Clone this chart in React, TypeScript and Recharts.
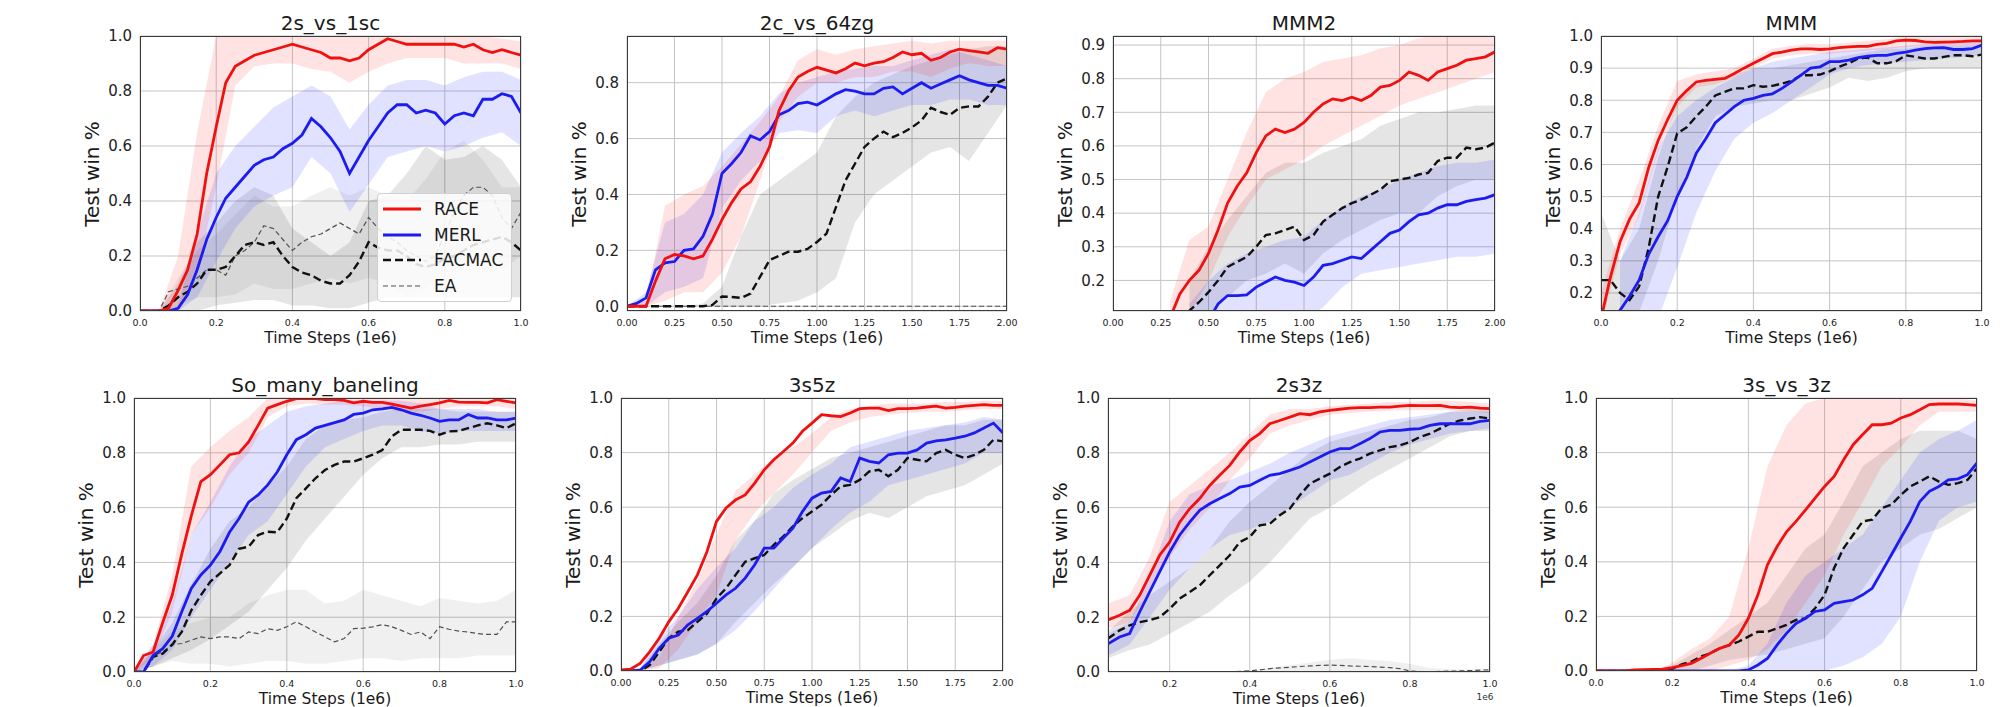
import React from "react";
import { ComposedChart, Line, Area, XAxis, YAxis, CartesianGrid } from "recharts";

const FONT = "'DejaVu Sans', sans-serif";

// x grids (1e6 steps)
const T1 = [0, 0.025, 0.05, 0.075, 0.1, 0.125, 0.15, 0.175, 0.2, 0.225, 0.25, 0.275, 0.3, 0.325, 0.35, 0.375, 0.4, 0.425, 0.45, 0.475, 0.5, 0.525, 0.55, 0.575, 0.6, 0.625, 0.65, 0.675, 0.7, 0.725, 0.75, 0.775, 0.8, 0.825, 0.85, 0.875, 0.9, 0.925, 0.95, 0.975, 1];
const T2 = [0, 0.05, 0.1, 0.15, 0.2, 0.25, 0.3, 0.35, 0.4, 0.45, 0.5, 0.55, 0.6, 0.65, 0.7, 0.75, 0.8, 0.85, 0.9, 0.95, 1, 1.05, 1.1, 1.15, 1.2, 1.25, 1.3, 1.35, 1.4, 1.45, 1.5, 1.55, 1.6, 1.65, 1.7, 1.75, 1.8, 1.85, 1.9, 1.95, 2];
const B1 = [0, 0.05, 0.1, 0.15, 0.2, 0.25, 0.3, 0.35, 0.4, 0.45, 0.5, 0.55, 0.6, 0.65, 0.7, 0.75, 0.8, 0.85, 0.9, 0.95, 1];
const B2 = [0, 0.1, 0.2, 0.3, 0.4, 0.5, 0.6, 0.7, 0.8, 0.9, 1, 1.1, 1.2, 1.3, 1.4, 1.5, 1.6, 1.7, 1.8, 1.9, 2];
const T7 = [0.046, 0.075, 0.1, 0.125, 0.15, 0.175, 0.2, 0.225, 0.25, 0.275, 0.3, 0.325, 0.35, 0.375, 0.4, 0.425, 0.45, 0.475, 0.5, 0.525, 0.55, 0.575, 0.6, 0.625, 0.65, 0.675, 0.7, 0.725, 0.75, 0.775, 0.8, 0.825, 0.85, 0.875, 0.9, 0.925, 0.95, 0.975, 1];
const B7 = [0.046, 0.1, 0.15, 0.2, 0.25, 0.3, 0.35, 0.4, 0.45, 0.5, 0.55, 0.6, 0.65, 0.7, 0.75, 0.8, 0.85, 0.9, 0.95, 1];
const FLAT1 = [0, 1];
const FLAT2 = [0, 2];
const FLAT_ZERO = [0, 0];

// tick values
const XT_1 = [0, 0.2, 0.4, 0.6, 0.8, 1];
const XT_2 = [0, 0.25, 0.5, 0.75, 1, 1.25, 1.5, 1.75, 2];
const XT_7 = [0.2, 0.4, 0.6, 0.8, 1];
const YT_A = [0, 0.2, 0.4, 0.6, 0.8, 1];
const YT_B = [0, 0.2, 0.4, 0.6, 0.8];
const YT_C = [0.2, 0.3, 0.4, 0.5, 0.6, 0.7, 0.8, 0.9];
const YT_D = [0.2, 0.3, 0.4, 0.5, 0.6, 0.7, 0.8, 0.9, 1];

// ---- 2s_vs_1sc
const p1Race = [0, 0, 0, 0.01, 0.075, 0.15, 0.28, 0.5, 0.67, 0.83, 0.89, 0.91, 0.93, 0.94, 0.95, 0.96, 0.97, 0.96, 0.95, 0.94, 0.92, 0.92, 0.91, 0.92, 0.95, 0.97, 0.99, 0.98, 0.97, 0.97, 0.97, 0.97, 0.97, 0.97, 0.96, 0.97, 0.95, 0.94, 0.95, 0.94, 0.93];
const p1RaceLo = [0, 0, 0.01, 0.14, 0.45, 0.82, 0.89, 0.9, 0.9, 0.88, 0.87, 0.83, 0.87, 0.9, 0.92, 0.92, 0.92, 0.9, 0.9, 0.9, 0.88];
const p1RaceHi = [0, 0, 0.2, 0.65, 1, 1, 1, 1, 1, 1, 1, 1, 1, 1, 1, 1, 1, 1, 1, 0.99, 0.98];
const p1Merl = [0, 0, 0, 0, 0.01, 0.06, 0.15, 0.26, 0.34, 0.41, 0.45, 0.49, 0.53, 0.55, 0.56, 0.59, 0.61, 0.64, 0.7, 0.67, 0.63, 0.58, 0.5, 0.56, 0.62, 0.67, 0.72, 0.75, 0.75, 0.72, 0.73, 0.72, 0.68, 0.71, 0.72, 0.71, 0.77, 0.77, 0.79, 0.78, 0.72];
const p1MerlLo = [0, 0, 0, 0.05, 0.18, 0.3, 0.38, 0.42, 0.45, 0.56, 0.5, 0.36, 0.46, 0.56, 0.58, 0.6, 0.58, 0.6, 0.63, 0.65, 0.6];
const p1MerlHi = [0, 0, 0.02, 0.28, 0.5, 0.6, 0.67, 0.74, 0.78, 0.82, 0.78, 0.66, 0.75, 0.82, 0.84, 0.84, 0.82, 0.85, 0.87, 0.87, 0.84];
const p1Fac = [0, 0, 0, 0.02, 0.05, 0.07, 0.1, 0.15, 0.15, 0.16, 0.2, 0.24, 0.25, 0.24, 0.25, 0.2, 0.16, 0.14, 0.13, 0.11, 0.1, 0.1, 0.13, 0.18, 0.25, 0.23, 0.22, 0.22, 0.2, 0.17, 0.16, 0.17, 0.19, 0.2, 0.22, 0.24, 0.25, 0.26, 0.27, 0.25, 0.22];
const p1FacLo = [0, 0, 0, 0, 0.02, 0.03, 0.04, 0.04, 0.02, 0.02, 0.01, 0.01, 0.03, 0.05, 0.05, 0.05, 0.05, 0.05, 0.05, 0.05, 0.05];
const p1FacHi = [0, 0, 0.1, 0.25, 0.32, 0.4, 0.45, 0.42, 0.3, 0.25, 0.2, 0.25, 0.4, 0.42, 0.5, 0.6, 0.55, 0.56, 0.6, 0.55, 0.45];
const p1Ea = [0, 0, 0, 0.07, 0.08, 0.09, 0.12, 0.15, 0.15, 0.13, 0.2, 0.22, 0.25, 0.31, 0.3, 0.26, 0.22, 0.25, 0.27, 0.28, 0.3, 0.32, 0.3, 0.28, 0.34, 0.3, 0.27, 0.25, 0.22, 0.2, 0.18, 0.2, 0.28, 0.36, 0.42, 0.45, 0.45, 0.42, 0.34, 0.3, 0.36];
const p1EaLo = [0, 0, 0.02, 0.05, 0.05, 0.06, 0.1, 0.08, 0.08, 0.1, 0.12, 0.1, 0.12, 0.1, 0.05, 0.08, 0.15, 0.2, 0.22, 0.15, 0.2];
const p1EaHi = [0, 0, 0.12, 0.22, 0.28, 0.35, 0.42, 0.38, 0.38, 0.42, 0.45, 0.42, 0.45, 0.42, 0.4, 0.48, 0.58, 0.62, 0.55, 0.45, 0.45];

// ---- 2c_vs_64zg
const p2Race = [0, 0, 0, 0.09, 0.17, 0.185, 0.18, 0.17, 0.18, 0.24, 0.31, 0.37, 0.42, 0.445, 0.5, 0.57, 0.7, 0.77, 0.82, 0.84, 0.855, 0.845, 0.835, 0.85, 0.87, 0.86, 0.87, 0.875, 0.89, 0.91, 0.9, 0.905, 0.88, 0.89, 0.91, 0.92, 0.915, 0.91, 0.905, 0.925, 0.92];
const p2RaceLo = [0, 0, 0.02, 0.05, 0.05, 0.12, 0.25, 0.45, 0.66, 0.75, 0.8, 0.8, 0.82, 0.82, 0.84, 0.84, 0.82, 0.85, 0.87, 0.86, 0.86];
const p2RaceHi = [0, 0.02, 0.36, 0.4, 0.43, 0.5, 0.58, 0.66, 0.75, 0.88, 0.92, 0.9, 0.92, 0.93, 0.94, 0.95, 0.94, 0.95, 0.95, 0.95, 0.95];
const p2Merl = [0, 0.01, 0.03, 0.13, 0.155, 0.16, 0.2, 0.205, 0.25, 0.33, 0.475, 0.51, 0.55, 0.61, 0.595, 0.625, 0.685, 0.7, 0.725, 0.73, 0.72, 0.74, 0.76, 0.775, 0.77, 0.76, 0.76, 0.78, 0.785, 0.76, 0.78, 0.8, 0.78, 0.795, 0.81, 0.825, 0.81, 0.8, 0.79, 0.79, 0.78];
const p2MerlLo = [0, 0, 0.05, 0.07, 0.1, 0.35, 0.45, 0.52, 0.62, 0.63, 0.62, 0.68, 0.7, 0.68, 0.7, 0.72, 0.72, 0.74, 0.74, 0.72, 0.72];
const p2MerlHi = [0, 0.05, 0.3, 0.33, 0.4, 0.55, 0.62, 0.68, 0.76, 0.8, 0.82, 0.84, 0.85, 0.86, 0.86, 0.88, 0.9, 0.92, 0.9, 0.88, 0.86];
const p2Fac = [0, 0, 0, 0, 0, 0, 0, 0, 0, 0.005, 0.035, 0.033, 0.03, 0.045, 0.105, 0.165, 0.18, 0.195, 0.195, 0.205, 0.23, 0.26, 0.355, 0.45, 0.51, 0.57, 0.6, 0.625, 0.605, 0.62, 0.64, 0.665, 0.71, 0.695, 0.685, 0.71, 0.715, 0.715, 0.75, 0.8, 0.815];
const p2FacLo = [0, 0, 0, 0, 0, 0, 0, 0, 0.01, 0.02, 0.05, 0.1, 0.3, 0.4, 0.45, 0.5, 0.55, 0.57, 0.52, 0.62, 0.72];
const p2FacHi = [0, 0, 0, 0, 0.01, 0.07, 0.25, 0.4, 0.45, 0.5, 0.55, 0.68, 0.75, 0.8, 0.83, 0.86, 0.88, 0.9, 0.92, 0.93, 0.93];

// ---- MMM2
const p3Race = [null, null, null, null, null, null, 0.09, 0.16, 0.2, 0.23, 0.28, 0.35, 0.43, 0.48, 0.52, 0.58, 0.63, 0.65, 0.64, 0.65, 0.67, 0.7, 0.725, 0.74, 0.735, 0.745, 0.735, 0.75, 0.775, 0.78, 0.795, 0.82, 0.81, 0.795, 0.82, 0.83, 0.84, 0.855, 0.86, 0.865, 0.88];
const p3RaceLo = [null, null, null, 0.05, 0.1, 0.2, 0.33, 0.42, 0.5, 0.53, 0.56, 0.6, 0.63, 0.66, 0.69, 0.72, 0.74, 0.76, 0.78, 0.8, 0.82];
const p3RaceHi = [null, null, null, 0.14, 0.32, 0.36, 0.5, 0.64, 0.76, 0.8, 0.82, 0.85, 0.86, 0.87, 0.89, 0.9, 0.92, 0.93, 0.93, 0.93, 0.93];
const p3Merl = [null, null, null, null, null, null, null, null, null, null, 0.08, 0.13, 0.155, 0.155, 0.157, 0.18, 0.195, 0.21, 0.2, 0.195, 0.185, 0.21, 0.245, 0.25, 0.26, 0.27, 0.265, 0.29, 0.315, 0.34, 0.35, 0.375, 0.395, 0.4, 0.415, 0.425, 0.425, 0.435, 0.44, 0.445, 0.455];
const p3MerlLo = [null, null, null, null, 0.05, 0.05, 0.05, 0.05, 0.05, 0.05, 0.08, 0.12, 0.18, 0.22, 0.23, 0.24, 0.25, 0.26, 0.27, 0.27, 0.28];
const p3MerlHi = [null, null, null, null, 0.13, 0.2, 0.25, 0.28, 0.3, 0.32, 0.33, 0.38, 0.42, 0.45, 0.47, 0.5, 0.52, 0.54, 0.55, 0.55, 0.56];
const p3Fac = [null, null, null, null, null, null, null, 0.08, 0.11, 0.135, 0.165, 0.2, 0.24, 0.255, 0.27, 0.3, 0.335, 0.34, 0.35, 0.36, 0.32, 0.335, 0.375, 0.395, 0.415, 0.43, 0.44, 0.455, 0.47, 0.495, 0.5, 0.505, 0.515, 0.52, 0.555, 0.565, 0.565, 0.595, 0.59, 0.595, 0.61];
const p3FacLo = [null, null, null, null, 0.08, 0.1, 0.15, 0.2, 0.22, 0.25, 0.22, 0.28, 0.32, 0.35, 0.38, 0.4, 0.4, 0.45, 0.48, 0.5, 0.5];
const p3FacHi = [null, null, null, null, 0.2, 0.3, 0.38, 0.45, 0.52, 0.55, 0.55, 0.58, 0.6, 0.62, 0.66, 0.68, 0.7, 0.7, 0.71, 0.72, 0.72];

// ---- MMM
const p4Race = [0.12, 0.25, 0.36, 0.43, 0.48, 0.59, 0.675, 0.74, 0.8, 0.83, 0.857, 0.862, 0.865, 0.868, 0.883, 0.9, 0.915, 0.93, 0.945, 0.95, 0.956, 0.96, 0.96, 0.958, 0.96, 0.964, 0.966, 0.968, 0.968, 0.974, 0.977, 0.985, 0.987, 0.986, 0.982, 0.98, 0.981, 0.982, 0.983, 0.985, 0.985];
const p4RaceLo = [0.1, 0.32, 0.44, 0.64, 0.78, 0.84, 0.85, 0.87, 0.9, 0.93, 0.94, 0.945, 0.945, 0.95, 0.955, 0.96, 0.965, 0.97, 0.97, 0.97, 0.97];
const p4RaceHi = [0.2, 0.4, 0.55, 0.72, 0.86, 0.88, 0.89, 0.9, 0.93, 0.96, 0.97, 0.975, 0.975, 0.98, 0.985, 0.99, 1, 1, 1, 1, 1];
const p4Merl = [null, 0.1, 0.146, 0.19, 0.24, 0.32, 0.375, 0.425, 0.5, 0.56, 0.635, 0.68, 0.73, 0.755, 0.78, 0.8, 0.806, 0.815, 0.82, 0.837, 0.857, 0.878, 0.9, 0.904, 0.92, 0.92, 0.925, 0.933, 0.937, 0.94, 0.94, 0.946, 0.95, 0.956, 0.961, 0.963, 0.964, 0.958, 0.958, 0.961, 0.972];
const p4MerlLo = [null, 0.05, 0.1, 0.12, 0.28, 0.45, 0.58, 0.68, 0.73, 0.76, 0.8, 0.84, 0.88, 0.9, 0.91, 0.915, 0.92, 0.925, 0.93, 0.935, 0.94];
const p4MerlHi = [null, 0.3, 0.45, 0.65, 0.75, 0.8, 0.84, 0.87, 0.9, 0.92, 0.93, 0.94, 0.95, 0.955, 0.96, 0.965, 0.97, 0.975, 0.98, 0.98, 0.99];
const p4Fac = [0.24, 0.24, 0.2, 0.178, 0.22, 0.34, 0.5, 0.593, 0.697, 0.716, 0.75, 0.78, 0.815, 0.826, 0.837, 0.837, 0.847, 0.842, 0.845, 0.852, 0.86, 0.878, 0.878, 0.88, 0.89, 0.904, 0.915, 0.93, 0.933, 0.915, 0.915, 0.922, 0.94, 0.935, 0.93, 0.93, 0.935, 0.94, 0.94, 0.937, 0.942];
const p4FacLo = [0.14, 0.1, 0.14, 0.3, 0.5, 0.65, 0.75, 0.78, 0.79, 0.8, 0.8, 0.82, 0.84, 0.87, 0.86, 0.87, 0.89, 0.9, 0.9, 0.9, 0.9];
const p4FacHi = [0.45, 0.3, 0.4, 0.62, 0.8, 0.85, 0.87, 0.88, 0.9, 0.9, 0.91, 0.92, 0.93, 0.94, 0.95, 0.96, 0.96, 0.97, 0.97, 0.97, 0.97];

// ---- So_many_baneling
const p5Race = [0, 0.06, 0.073, 0.18, 0.28, 0.43, 0.57, 0.695, 0.72, 0.756, 0.793, 0.8, 0.84, 0.9, 0.963, 0.976, 0.988, 0.998, 0.998, 0.998, 0.994, 0.994, 0.991, 0.982, 0.988, 0.984, 0.984, 0.978, 0.97, 0.963, 0.97, 0.976, 0.982, 0.991, 0.985, 0.984, 0.984, 0.982, 0.994, 0.988, 0.982];
const p5RaceLo = [0, 0.05, 0.22, 0.5, 0.6, 0.72, 0.8, 0.93, 0.97, 0.98, 0.975, 0.975, 0.97, 0.96, 0.95, 0.95, 0.96, 0.97, 0.97, 0.97, 0.96];
const p5RaceHi = [0, 0.1, 0.35, 0.75, 0.82, 0.88, 0.93, 1, 1, 1, 1, 1, 1, 1, 1, 1, 1, 1, 1, 1, 1];
const p5Merl = [0, 0, 0.06, 0.085, 0.13, 0.22, 0.305, 0.354, 0.39, 0.44, 0.51, 0.56, 0.62, 0.646, 0.683, 0.73, 0.793, 0.848, 0.866, 0.89, 0.9, 0.91, 0.92, 0.94, 0.945, 0.957, 0.96, 0.966, 0.957, 0.945, 0.937, 0.927, 0.915, 0.92, 0.92, 0.94, 0.927, 0.927, 0.92, 0.92, 0.927];
const p5MerlLo = [0, 0.02, 0.08, 0.2, 0.3, 0.4, 0.5, 0.55, 0.65, 0.75, 0.82, 0.85, 0.88, 0.9, 0.9, 0.88, 0.87, 0.88, 0.88, 0.88, 0.88];
const p5MerlHi = [0, 0.1, 0.25, 0.5, 0.62, 0.75, 0.85, 0.9, 0.95, 0.97, 0.98, 0.99, 0.99, 0.99, 0.99, 0.98, 0.96, 0.96, 0.96, 0.95, 0.95];
const p5Fac = [0, 0, 0.055, 0.067, 0.1, 0.146, 0.225, 0.28, 0.33, 0.36, 0.39, 0.45, 0.457, 0.5, 0.512, 0.51, 0.56, 0.634, 0.67, 0.707, 0.737, 0.756, 0.768, 0.768, 0.78, 0.793, 0.81, 0.86, 0.884, 0.884, 0.884, 0.88, 0.866, 0.878, 0.88, 0.89, 0.9, 0.908, 0.9, 0.89, 0.908];
const p5FacLo = [0, 0.02, 0.05, 0.08, 0.12, 0.17, 0.22, 0.3, 0.38, 0.48, 0.56, 0.64, 0.72, 0.78, 0.82, 0.82, 0.83, 0.83, 0.84, 0.84, 0.84];
const p5FacHi = [0, 0.08, 0.18, 0.32, 0.45, 0.55, 0.6, 0.68, 0.75, 0.85, 0.9, 0.92, 0.93, 0.95, 0.96, 0.96, 0.96, 0.95, 0.95, 0.95, 0.95];
const p5Ea = [0, 0, 0.06, 0.073, 0.1, 0.104, 0.116, 0.128, 0.122, 0.128, 0.128, 0.122, 0.146, 0.14, 0.158, 0.152, 0.165, 0.183, 0.165, 0.146, 0.128, 0.11, 0.122, 0.158, 0.16, 0.165, 0.173, 0.165, 0.152, 0.137, 0.146, 0.122, 0.165, 0.156, 0.149, 0.146, 0.14, 0.137, 0.137, 0.183, 0.183];
const p5EaLo = [0, 0.02, 0.04, 0.03, 0.03, 0.02, 0.03, 0.04, 0.04, 0.03, 0.03, 0.04, 0.05, 0.05, 0.04, 0.05, 0.05, 0.05, 0.06, 0.06, 0.06];
const p5EaHi = [0, 0.08, 0.15, 0.18, 0.2, 0.2, 0.25, 0.28, 0.3, 0.3, 0.25, 0.26, 0.3, 0.28, 0.26, 0.24, 0.27, 0.26, 0.25, 0.26, 0.3];

// ---- 3s5z
const p6Race = [0.004, 0.007, 0.028, 0.07, 0.12, 0.18, 0.23, 0.29, 0.352, 0.437, 0.548, 0.597, 0.627, 0.645, 0.688, 0.737, 0.774, 0.804, 0.835, 0.878, 0.908, 0.939, 0.935, 0.932, 0.945, 0.961, 0.963, 0.963, 0.954, 0.961, 0.961, 0.963, 0.967, 0.97, 0.963, 0.966, 0.97, 0.973, 0.976, 0.973, 0.973];
const p6RaceLo = [0, 0, 0.01, 0.08, 0.18, 0.28, 0.48, 0.58, 0.65, 0.72, 0.8, 0.88, 0.91, 0.93, 0.94, 0.945, 0.95, 0.95, 0.955, 0.96, 0.96];
const p6RaceHi = [0, 0.01, 0.05, 0.2, 0.33, 0.5, 0.66, 0.72, 0.78, 0.82, 0.87, 0.93, 0.96, 0.97, 0.98, 0.98, 0.98, 0.985, 0.985, 0.99, 0.99];
const p6Merl = [0, 0, 0.003, 0.034, 0.083, 0.12, 0.132, 0.169, 0.193, 0.218, 0.248, 0.279, 0.303, 0.34, 0.389, 0.45, 0.45, 0.487, 0.523, 0.584, 0.633, 0.652, 0.658, 0.707, 0.694, 0.78, 0.768, 0.762, 0.792, 0.798, 0.798, 0.81, 0.835, 0.843, 0.847, 0.853, 0.86, 0.872, 0.89, 0.908, 0.872];
const p6MerlLo = [0, 0, 0.02, 0.04, 0.06, 0.1, 0.15, 0.22, 0.3, 0.38, 0.45, 0.52, 0.58, 0.62, 0.68, 0.7, 0.72, 0.74, 0.76, 0.8, 0.8];
const p6MerlHi = [0, 0.01, 0.12, 0.2, 0.3, 0.38, 0.45, 0.55, 0.6, 0.67, 0.72, 0.76, 0.82, 0.84, 0.86, 0.88, 0.89, 0.9, 0.91, 0.93, 0.92];
const p6Fac = [0, 0, 0, 0.022, 0.07, 0.12, 0.144, 0.15, 0.18, 0.21, 0.266, 0.303, 0.352, 0.4, 0.413, 0.425, 0.462, 0.493, 0.53, 0.56, 0.584, 0.609, 0.645, 0.676, 0.682, 0.7, 0.731, 0.737, 0.713, 0.737, 0.78, 0.774, 0.768, 0.798, 0.81, 0.792, 0.78, 0.792, 0.81, 0.847, 0.841];
const p6FacLo = [0, 0, 0.02, 0.04, 0.06, 0.1, 0.18, 0.25, 0.32, 0.38, 0.45, 0.5, 0.55, 0.58, 0.56, 0.6, 0.64, 0.66, 0.68, 0.72, 0.76];
const p6FacHi = [0, 0.01, 0.1, 0.18, 0.25, 0.35, 0.48, 0.55, 0.65, 0.7, 0.74, 0.78, 0.8, 0.82, 0.84, 0.86, 0.88, 0.9, 0.9, 0.92, 0.92];

// ---- 2s3z
const p7Race = [0.19, 0.207, 0.225, 0.28, 0.353, 0.426, 0.474, 0.547, 0.596, 0.633, 0.681, 0.718, 0.754, 0.803, 0.845, 0.87, 0.906, 0.918, 0.93, 0.943, 0.939, 0.949, 0.955, 0.959, 0.963, 0.965, 0.965, 0.967, 0.967, 0.97, 0.973, 0.972, 0.972, 0.973, 0.967, 0.965, 0.967, 0.963, 0.961];
const p7RaceLo = [0.16, 0.18, 0.3, 0.42, 0.52, 0.6, 0.7, 0.78, 0.87, 0.9, 0.92, 0.94, 0.945, 0.95, 0.955, 0.955, 0.955, 0.955, 0.95, 0.945];
const p7RaceHi = [0.25, 0.28, 0.42, 0.62, 0.68, 0.74, 0.8, 0.87, 0.94, 0.96, 0.96, 0.97, 0.975, 0.98, 0.985, 0.985, 0.99, 0.99, 0.985, 0.98];
const p7Merl = [0.103, 0.128, 0.14, 0.219, 0.292, 0.365, 0.438, 0.5, 0.547, 0.59, 0.614, 0.633, 0.651, 0.675, 0.681, 0.7, 0.718, 0.724, 0.736, 0.748, 0.766, 0.785, 0.803, 0.815, 0.815, 0.833, 0.852, 0.876, 0.882, 0.882, 0.886, 0.888, 0.9, 0.906, 0.906, 0.906, 0.906, 0.915, 0.918];
const p7MerlLo = [0.06, 0.1, 0.2, 0.3, 0.38, 0.45, 0.5, 0.52, 0.55, 0.6, 0.65, 0.7, 0.72, 0.76, 0.8, 0.83, 0.85, 0.87, 0.88, 0.89];
const p7MerlHi = [0.14, 0.18, 0.35, 0.55, 0.65, 0.68, 0.7, 0.73, 0.76, 0.8, 0.83, 0.86, 0.88, 0.9, 0.92, 0.93, 0.94, 0.95, 0.95, 0.95];
const p7Fac = [0.122, 0.152, 0.17, 0.182, 0.189, 0.2, 0.231, 0.268, 0.292, 0.316, 0.353, 0.389, 0.426, 0.474, 0.493, 0.535, 0.541, 0.572, 0.596, 0.645, 0.687, 0.706, 0.724, 0.748, 0.766, 0.779, 0.797, 0.809, 0.821, 0.827, 0.839, 0.858, 0.87, 0.888, 0.906, 0.918, 0.925, 0.93, 0.925];
const p7FacLo = [0.05, 0.08, 0.1, 0.14, 0.18, 0.22, 0.28, 0.33, 0.4, 0.48, 0.56, 0.6, 0.65, 0.7, 0.74, 0.78, 0.82, 0.86, 0.88, 0.88];
const p7FacHi = [0.15, 0.22, 0.28, 0.33, 0.38, 0.45, 0.55, 0.62, 0.68, 0.74, 0.8, 0.84, 0.86, 0.88, 0.9, 0.92, 0.93, 0.95, 0.96, 0.96];
const p7Ea = [0, 0, 0, 0, 0, 0, 0, 0, 0, 0, 0, 0, 0, 0.002, 0.004, 0.008, 0.012, 0.015, 0.017, 0.02, 0.022, 0.024, 0.025, 0.024, 0.022, 0.021, 0.02, 0.018, 0.016, 0.012, 0.004, 0.002, 0.001, 0.002, 0.003, 0.004, 0.005, 0.007, 0.008];
const p7EaLo = [0, 0, 0, 0, 0, 0, 0, 0, 0, 0, 0, 0, 0, 0, 0, 0, 0, 0, 0, 0];
const p7EaHi = [0, 0, 0, 0, 0, 0, 0, 0.005, 0.015, 0.025, 0.035, 0.045, 0.05, 0.045, 0.04, 0.03, 0.015, 0.01, 0.01, 0.012];

// ---- 3s_vs_3z
const p8Race = [0, 0, 0, 0, 0.004, 0.005, 0.006, 0.007, 0.012, 0.02, 0.028, 0.046, 0.065, 0.083, 0.095, 0.132, 0.193, 0.279, 0.389, 0.455, 0.51, 0.548, 0.59, 0.633, 0.676, 0.713, 0.774, 0.829, 0.866, 0.902, 0.902, 0.908, 0.927, 0.939, 0.957, 0.976, 0.978, 0.978, 0.978, 0.976, 0.973];
const p8RaceLo = [0, 0, 0, 0, 0, 0, 0, 0.02, 0.04, 0.08, 0.15, 0.25, 0.35, 0.5, 0.62, 0.75, 0.82, 0.9, 0.95, 0.95, 0.95];
const p8RaceHi = [0, 0, 0, 0, 0.03, 0.08, 0.12, 0.2, 0.45, 0.75, 0.9, 0.98, 1, 1, 1, 1, 1, 1, 1, 1, 0.99];
const p8Merl = [0, 0, 0, 0, 0, 0, 0, 0, 0, 0, 0, 0, 0, 0, 0, 0, 0.004, 0.022, 0.046, 0.095, 0.138, 0.174, 0.193, 0.218, 0.224, 0.248, 0.254, 0.26, 0.279, 0.303, 0.364, 0.425, 0.487, 0.548, 0.621, 0.658, 0.676, 0.7, 0.704, 0.719, 0.762];
const p8MerlLo = [0, 0, 0, 0, 0, 0, 0, 0, 0, 0, 0, 0, 0, 0.02, 0.05, 0.1, 0.2, 0.4, 0.55, 0.6, 0.62];
const p8MerlHi = [0, 0, 0, 0, 0, 0, 0, 0, 0.02, 0.1, 0.25, 0.35, 0.4, 0.45, 0.5, 0.6, 0.7, 0.8, 0.85, 0.88, 0.92];
const p8Fac = [0, 0, 0, 0, 0, 0, 0.002, 0.004, 0.008, 0.024, 0.034, 0.053, 0.065, 0.083, 0.095, 0.108, 0.126, 0.144, 0.144, 0.156, 0.169, 0.187, 0.193, 0.23, 0.279, 0.377, 0.45, 0.499, 0.548, 0.554, 0.597, 0.609, 0.645, 0.676, 0.694, 0.713, 0.694, 0.682, 0.688, 0.7, 0.743];
const p8FacLo = [0, 0, 0, 0, 0, 0, 0.02, 0.04, 0.05, 0.06, 0.08, 0.1, 0.12, 0.2, 0.3, 0.4, 0.45, 0.5, 0.52, 0.56, 0.6];
const p8FacHi = [0, 0, 0, 0, 0.02, 0.06, 0.1, 0.15, 0.2, 0.25, 0.35, 0.45, 0.5, 0.62, 0.75, 0.8, 0.85, 0.88, 0.88, 0.88, 0.85];

const METHODS = [
  { key: "ea", name: "EA", color: "#505050", width: 1.2, dash: "5 3", band: "#000000", bandOpacity: 0.06 },
  { key: "fac", name: "FACMAC", color: "#111111", width: 2.4, dash: "8 4", band: "#000000", bandOpacity: 0.1 },
  { key: "merl", name: "MERL", color: "#1c1cf0", width: 2.8, dash: undefined, band: "#2a35ff", bandOpacity: 0.14 },
  { key: "race", name: "RACE", color: "#f01010", width: 2.8, dash: undefined, band: "#ff2020", bandOpacity: 0.13 },
];
const LEGEND_ORDER = ["race", "merl", "fac", "ea"];

const panels = [
  {
    title: "2s_vs_1sc", left: 140, top: 36, w: 381, h: 275,
    xDomain: [0, 1], xTicks: XT_1, xDec: 1, yDomain: [0, 1], yTicks: YT_A,
    series: {
      race: { x: T1, y: p1Race, bx: B1, lo: p1RaceLo, hi: p1RaceHi },
      merl: { x: T1, y: p1Merl, bx: B1, lo: p1MerlLo, hi: p1MerlHi },
      fac: { x: T1, y: p1Fac, bx: B1, lo: p1FacLo, hi: p1FacHi },
      ea: { x: T1, y: p1Ea, bx: B1, lo: p1EaLo, hi: p1EaHi },
    },
  },
  {
    title: "2c_vs_64zg", left: 627, top: 36, w: 380, h: 275,
    xDomain: [0, 2], xTicks: XT_2, xDec: 2, yDomain: [-0.017, 0.967], yTicks: YT_B,
    series: {
      race: { x: T2, y: p2Race, bx: B2, lo: p2RaceLo, hi: p2RaceHi },
      merl: { x: T2, y: p2Merl, bx: B2, lo: p2MerlLo, hi: p2MerlHi },
      fac: { x: T2, y: p2Fac, bx: B2, lo: p2FacLo, hi: p2FacHi },
      ea: { x: FLAT2, y: FLAT_ZERO },
    },
  },
  {
    title: "MMM2", left: 1113, top: 36, w: 382, h: 275,
    xDomain: [0, 2], xTicks: XT_2, xDec: 2, yDomain: [0.109, 0.927], yTicks: YT_C,
    series: {
      race: { x: T2, y: p3Race, bx: B2, lo: p3RaceLo, hi: p3RaceHi },
      merl: { x: T2, y: p3Merl, bx: B2, lo: p3MerlLo, hi: p3MerlHi },
      fac: { x: T2, y: p3Fac, bx: B2, lo: p3FacLo, hi: p3FacHi },
    },
  },
  {
    title: "MMM", left: 1601, top: 36, w: 381, h: 275,
    xDomain: [0, 1], xTicks: XT_1, xDec: 1, yDomain: [0.144, 1], yTicks: YT_D,
    series: {
      race: { x: T1, y: p4Race, bx: B1, lo: p4RaceLo, hi: p4RaceHi },
      merl: { x: T1, y: p4Merl, bx: B1, lo: p4MerlLo, hi: p4MerlHi },
      fac: { x: T1, y: p4Fac, bx: B1, lo: p4FacLo, hi: p4FacHi },
    },
  },
  {
    title: "So_many_baneling", left: 134, top: 398, w: 382, h: 274,
    xDomain: [0, 1], xTicks: XT_1, xDec: 1, yDomain: [0, 1], yTicks: YT_A,
    series: {
      race: { x: T1, y: p5Race, bx: B1, lo: p5RaceLo, hi: p5RaceHi },
      merl: { x: T1, y: p5Merl, bx: B1, lo: p5MerlLo, hi: p5MerlHi },
      fac: { x: T1, y: p5Fac, bx: B1, lo: p5FacLo, hi: p5FacHi },
      ea: { x: T1, y: p5Ea, bx: B1, lo: p5EaLo, hi: p5EaHi },
    },
  },
  {
    title: "3s5z", left: 621, top: 398, w: 382, h: 273,
    xDomain: [0, 2], xTicks: XT_2, xDec: 2, yDomain: [0, 1], yTicks: YT_A,
    series: {
      race: { x: T2, y: p6Race, bx: B2, lo: p6RaceLo, hi: p6RaceHi },
      merl: { x: T2, y: p6Merl, bx: B2, lo: p6MerlLo, hi: p6MerlHi },
      fac: { x: T2, y: p6Fac, bx: B2, lo: p6FacLo, hi: p6FacHi },
      ea: { x: FLAT2, y: FLAT_ZERO },
    },
  },
  {
    title: "2s3z", left: 1108, top: 398, w: 382, h: 274, offsetText: "1e6",
    xDomain: [0.046, 1], xTicks: XT_7, xDec: 1, yDomain: [0, 1], yTicks: YT_A,
    series: {
      race: { x: T7, y: p7Race, bx: B7, lo: p7RaceLo, hi: p7RaceHi },
      merl: { x: T7, y: p7Merl, bx: B7, lo: p7MerlLo, hi: p7MerlHi },
      fac: { x: T7, y: p7Fac, bx: B7, lo: p7FacLo, hi: p7FacHi },
      ea: { x: T7, y: p7Ea, bx: B7, lo: p7EaLo, hi: p7EaHi },
    },
  },
  {
    title: "3s_vs_3z", left: 1596, top: 398, w: 381, h: 273,
    xDomain: [0, 1], xTicks: XT_1, xDec: 1, yDomain: [0, 1], yTicks: YT_A,
    series: {
      race: { x: T1, y: p8Race, bx: B1, lo: p8RaceLo, hi: p8RaceHi },
      merl: { x: T1, y: p8Merl, bx: B1, lo: p8MerlLo, hi: p8MerlHi },
      fac: { x: T1, y: p8Fac, bx: B1, lo: p8FacLo, hi: p8FacHi },
      ea: { x: FLAT1, y: FLAT_ZERO },
    },
  },
];

const lineRows = (xs: number[], ys: (number | null)[]) => xs.map((x, i) => ({ x, y: ys[i] }));
const bandRows = (xs: number[], lo: (number | null)[], hi: (number | null)[]) =>
  xs.map((x, i) => ({ x, y: lo[i] == null ? null : [lo[i], hi[i]] }));

function Panel({ p }: { p: any }) {
  const W = p.w + 80;
  const H = p.h + 38;
  const cx = p.left + p.w / 2;
  const cy = p.top + p.h / 2;
  return (
    <>
      <div style={{ position: "absolute", left: p.left - 60, top: p.top - 8 }}>
        <ComposedChart width={W} height={H} margin={{ top: 8, right: 20, bottom: 0, left: 0 }}>
          <CartesianGrid stroke="#c4c4c4" strokeWidth={1} />
          <XAxis
            type="number"
            dataKey="x"
            domain={p.xDomain}
            ticks={p.xTicks}
            allowDataOverflow
            interval={0}
            tickFormatter={(v: number) => v.toFixed(p.xDec)}
            height={30}
            axisLine={false}
            tickLine={false}
            tickSize={4}
            tickMargin={4}
            tick={{ fontSize: 9.5, fill: "#222", fontFamily: FONT }}
          />
          <YAxis
            type="number"
            domain={p.yDomain}
            ticks={p.yTicks}
            allowDataOverflow
            interval={0}
            tickFormatter={(v: number) => v.toFixed(1)}
            width={60}
            axisLine={false}
            tickLine={false}
            tickSize={4}
            tickMargin={4}
            tick={{ fontSize: 15, fill: "#222", fontFamily: FONT }}
          />
          {METHODS.map((m) => {
            const s = p.series[m.key];
            if (!s || !s.lo) return null;
            return (
              <Area
                key={m.key + "-band"}
                data={bandRows(s.bx, s.lo, s.hi)}
                dataKey="y"
                type="linear"
                stroke="none"
                fill={m.band}
                fillOpacity={m.bandOpacity}
                dot={false}
                activeDot={false}
                isAnimationActive={false}
              />
            );
          })}
          {METHODS.map((m) => {
            const s = p.series[m.key];
            if (!s) return null;
            return (
              <Line
                key={m.key + "-line"}
                data={lineRows(s.x, s.y)}
                dataKey="y"
                name={m.name}
                type="linear"
                stroke={m.color}
                strokeWidth={m.width}
                strokeDasharray={m.dash}
                dot={false}
                activeDot={false}
                isAnimationActive={false}
              />
            );
          })}
        </ComposedChart>
      </div>
      <div
        style={{
          position: "absolute", left: p.left, top: p.top, width: p.w, height: p.h,
          border: "1px solid #3a3a3a", boxSizing: "border-box", pointerEvents: "none",
        }}
      />
      <div style={{ position: "absolute", left: cx, top: p.top - 2, transform: "translate(-50%, -100%)", fontSize: 20, lineHeight: "22px", whiteSpace: "nowrap", color: "#1a1a1a" }}>
        {p.title}
      </div>
      <div style={{ position: "absolute", left: p.left - 48, top: cy, transform: "translate(-50%, -50%) rotate(-90deg)", fontSize: 20, lineHeight: "20px", whiteSpace: "nowrap", color: "#1a1a1a" }}>
        Test win %
      </div>
      <div style={{ position: "absolute", left: cx, top: p.top + p.h + 27, transform: "translate(-50%, -50%)", fontSize: 15.5, lineHeight: "16px", whiteSpace: "nowrap", color: "#1a1a1a" }}>
        Time Steps (1e6)
      </div>
      {p.offsetText ? (
        <div style={{ position: "absolute", left: p.left + p.w - 5, top: p.top + p.h + 25, transform: "translate(-50%, -50%)", fontSize: 9, color: "#333" }}>
          {p.offsetText}
        </div>
      ) : null}
    </>
  );
}

function LegendBox() {
  return (
    <div
      style={{
        position: "absolute", left: 377, top: 193, width: 135, height: 109,
        border: "1px solid #d0d0d0", borderRadius: 4, background: "rgba(255,255,255,0.85)",
        boxSizing: "border-box", fontSize: 17, color: "#1a1a1a",
      }}
    >
      {LEGEND_ORDER.map((key, i) => {
        const m = METHODS.find((mm) => mm.key === key)!;
        return (
          <div key={key} style={{ position: "absolute", left: 5, top: 4 + i * 25.7, height: 22, display: "flex", alignItems: "center", whiteSpace: "nowrap" }}>
            <svg width={38} height={8}>
              <line x1={0} y1={4} x2={38} y2={4} stroke={m.color} strokeWidth={m.width} strokeDasharray={m.dash} />
            </svg>
            <span style={{ marginLeft: 13 }}>{m.name}</span>
          </div>
        );
      })}
    </div>
  );
}

export default function App() {
  return (
    <div style={{ position: "absolute", left: 0, top: 0, width: 2012, height: 707, background: "#fff", overflow: "hidden", fontFamily: FONT }}>
      {panels.map((p) => (
        <Panel key={p.title} p={p} />
      ))}
      <LegendBox />
    </div>
  );
}
